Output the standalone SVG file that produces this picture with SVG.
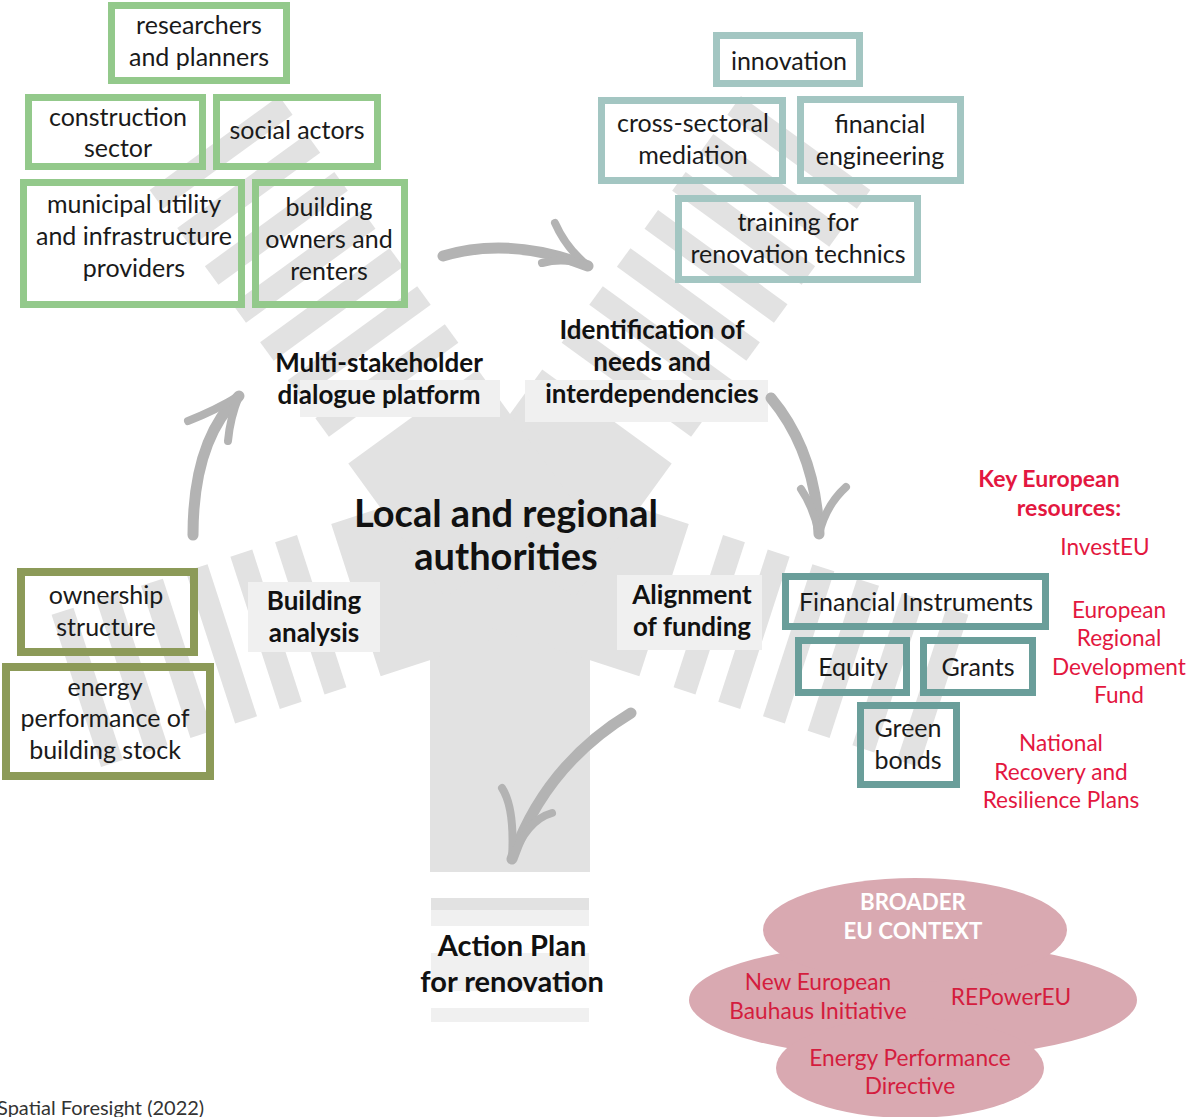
<svg xmlns="http://www.w3.org/2000/svg" width="1189" height="1117" viewBox="0 0 1189 1117">
<style>
.body{fill:#e2e2e2}
.stripe{fill:#e2e2e2}
.lbg{fill:#f0f0f0}
.arrow{fill:none;stroke:#b3b3b3;stroke-linecap:round;stroke-linejoin:round}
.g1{fill:none;stroke:#93c98b;stroke-width:7}
.t1{fill:none;stroke:#a3c6c2;stroke-width:7}
.t2{fill:none;stroke:#6a9e9a;stroke-width:7}
.ol{fill:none;stroke:#8c9a58;stroke-width:8}
.bx{font-family:Lato,"Liberation Sans",sans-serif;font-size:25px;fill:#1a1a1a;text-anchor:middle}
.lb{font-family:Lato,"Liberation Sans",sans-serif;font-weight:bold;font-size:26px;fill:#111;text-anchor:middle}
.red{font-family:Lato,"Liberation Sans",sans-serif;font-size:22.6px;fill:#e3173f;text-anchor:middle}
.redb{font-family:Lato,"Liberation Sans",sans-serif;font-weight:bold;font-size:23px;fill:#e3173f;text-anchor:middle}
.cl{font-family:Lato,"Liberation Sans",sans-serif;font-size:22.7px;fill:#d41d3e;text-anchor:middle}
.clw{font-family:Lato,"Liberation Sans",sans-serif;font-weight:bold;font-size:22.3px;fill:#ffffff;text-anchor:middle}
</style>
<rect width="1189" height="1117" fill="#ffffff"/>
<g id="background">
  <circle cx="510" cy="550" r="80" class="body"/>
  <g transform="translate(510,550) rotate(90)">
    <rect x="0" y="-80" width="322" height="160" class="body"/>
  </g>
  <g transform="translate(510,550) rotate(162)">
    <rect x="0" y="-80" width="162" height="160" class="body"/>
    <rect x="198" y="-80" width="23" height="160" class="stripe"/>
    <rect x="245" y="-80" width="23" height="160" class="stripe"/>
    <rect x="292" y="-80" width="23" height="160" class="stripe"/>
    <rect x="339" y="-80" width="23" height="160" class="stripe"/>
    <rect x="386" y="-80" width="23" height="160" class="stripe"/>
    <rect x="433" y="-80" width="23" height="160" class="stripe"/>
  </g>
  <g transform="translate(510,550) rotate(18)">
    <rect x="0" y="-80" width="162" height="160" class="body"/>
    <rect x="198" y="-80" width="23" height="160" class="stripe"/>
    <rect x="245" y="-80" width="23" height="160" class="stripe"/>
    <rect x="292" y="-80" width="23" height="160" class="stripe"/>
    <rect x="339" y="-80" width="23" height="160" class="stripe"/>
    <rect x="386" y="-80" width="23" height="160" class="stripe"/>
    <rect x="433" y="-80" width="23" height="160" class="stripe"/>
  </g>
  <g transform="translate(510,550) rotate(-54)">
    <rect x="0" y="-80" width="165" height="160" class="body"/>
    <rect x="198" y="-80" width="23" height="160" class="stripe"/>
    <rect x="245" y="-80" width="23" height="160" class="stripe"/>
    <rect x="292" y="-80" width="23" height="160" class="stripe"/>
    <rect x="339" y="-80" width="23" height="160" class="stripe"/>
    <rect x="386" y="-80" width="23" height="160" class="stripe"/>
    <rect x="433" y="-80" width="23" height="160" class="stripe"/>
    <rect x="480" y="-80" width="23" height="160" class="stripe"/>
  </g>
  <g transform="translate(510,550) rotate(-126)">
    <rect x="0" y="-80" width="165" height="160" class="body"/>
    <rect x="198" y="-80" width="23" height="160" class="stripe"/>
    <rect x="245" y="-80" width="23" height="160" class="stripe"/>
    <rect x="292" y="-80" width="23" height="160" class="stripe"/>
    <rect x="339" y="-80" width="23" height="160" class="stripe"/>
    <rect x="386" y="-80" width="23" height="160" class="stripe"/>
    <rect x="433" y="-80" width="23" height="160" class="stripe"/>
    <rect x="480" y="-80" width="23" height="160" class="stripe"/>
  </g>
  <rect x="431" y="898" width="158" height="12" class="stripe"/>
  <rect x="431" y="910" width="158" height="16" class="lbg"/>
  <rect x="431" y="953" width="158" height="38" class="lbg"/>
  <rect x="431" y="1008" width="158" height="14" class="lbg"/>
  <rect x="300" y="380" width="200" height="37" class="lbg"/>
  <rect x="525" y="380" width="243" height="42" class="lbg"/>
  <rect x="248" y="582" width="132" height="70" class="lbg"/>
  <rect x="617" y="575" width="145" height="75" class="lbg"/>
</g>
<g id="connectors">
  <path class="arrow" stroke-width="11" d="M443,256 Q510,236 588,266"/>
  <path class="arrow" stroke-width="8" d="M555,223 Q566,248 588,266"/>
  <path class="arrow" stroke-width="8" d="M542,263 Q566,257 588,266"/>
  <path class="arrow" stroke-width="11" d="M771,398 Q816,452 819,534"/>
  <path class="arrow" stroke-width="8" d="M801,489 Q814,508 819,534"/>
  <path class="arrow" stroke-width="8" d="M846,487 Q826,505 819,534"/>
  <path class="arrow" stroke-width="11" d="M631,713 Q545,765 512,859"/>
  <path class="arrow" stroke-width="8" d="M502,788 Q515,808 512,859"/>
  <path class="arrow" stroke-width="8" d="M552,813 Q527,820 512,859"/>
  <path class="arrow" stroke-width="11" d="M193,535 Q193,440 239,396"/>
  <path class="arrow" stroke-width="8" d="M188,421 Q216,410 239,396"/>
  <path class="arrow" stroke-width="8" d="M228,441 Q230,418 239,396"/>
</g>
<g id="n-researchers"><rect x="111.5" y="5.5" width="175" height="75" class="g1"/><text class="bx" x="199" y="34">researchers</text><text class="bx" x="199" y="66">and planners</text></g>
<g id="n-construction"><rect x="28.5" y="97.5" width="174" height="69" class="g1"/><text class="bx" x="118" y="126">construction</text><text class="bx" x="118" y="157">sector</text></g>
<g id="n-social"><rect x="216.5" y="97.5" width="161" height="69" class="g1"/><text class="bx" x="297" y="139">social actors</text></g>
<g id="n-municipal"><rect x="23.5" y="182.5" width="218" height="122" class="g1"/><text class="bx" x="134" y="213">municipal utility</text><text class="bx" x="134" y="245">and infrastructure</text><text class="bx" x="134" y="277">providers</text></g>
<g id="n-owners"><rect x="255.5" y="182.5" width="149" height="122" class="g1"/><text class="bx" x="329" y="216">building</text><text class="bx" x="329" y="248">owners and</text><text class="bx" x="329" y="280">renters</text></g>
<g id="n-innovation"><rect x="716.5" y="35.5" width="143" height="48" class="t1"/><text class="bx" x="789" y="70">innovation</text></g>
<g id="n-crosssectoral"><rect x="601.5" y="100.5" width="181" height="80" class="t1"/><text class="bx" x="693" y="132">cross-sectoral</text><text class="bx" x="693" y="164">mediation</text></g>
<g id="n-financialeng"><rect x="800.5" y="99.5" width="160" height="81" class="t1"/><text class="bx" x="880" y="133">financial</text><text class="bx" x="880" y="165">engineering</text></g>
<g id="n-training"><rect x="678.5" y="198.5" width="239" height="81" class="t1"/><text class="bx" x="798" y="231">training for</text><text class="bx" x="798" y="263">renovation technics</text></g>
<g id="n-fininstr"><rect x="785.5" y="576.5" width="260" height="50" class="t2"/><text class="bx" x="916" y="611">Financial Instruments</text></g>
<g id="n-equity"><rect x="798.5" y="640.5" width="108" height="52" class="t2"/><text class="bx" x="853" y="676">Equity</text></g>
<g id="n-grants"><rect x="923.5" y="640.5" width="109" height="52" class="t2"/><text class="bx" x="978" y="676">Grants</text></g>
<g id="n-greenbonds"><rect x="860.5" y="705.5" width="96" height="79" class="t2"/><text class="bx" x="908" y="737">Green</text><text class="bx" x="908" y="769">bonds</text></g>
<g id="n-ownership"><rect x="21" y="572" width="173" height="80" class="ol"/><text class="bx" x="106" y="604">ownership</text><text class="bx" x="106" y="636">structure</text></g>
<g id="n-energy"><rect x="6" y="667" width="204" height="109" class="ol"/><text class="bx" x="105" y="696">energy</text><text class="bx" x="105" y="727">performance of</text><text class="bx" x="105" y="759">building stock</text></g>
<g id="n-multistakeholder"><text class="lb" x="379" y="372">Multi-stakeholder</text><text class="lb" x="379" y="404">dialogue platform</text></g>
<g id="n-identification"><text class="lb" x="652" y="339">Identification of</text><text class="lb" x="652" y="371">needs and</text><text class="lb" x="652" y="403">interdependencies</text></g>
<g id="n-authorities"><text class="lb" x="506" y="527" style="font-size:38px">Local and regional</text><text class="lb" x="506" y="570" style="font-size:38px">authorities</text></g>
<g id="n-building"><text class="lb" x="314" y="610">Building</text><text class="lb" x="314" y="642">analysis</text></g>
<g id="n-alignment"><text class="lb" x="692" y="604">Alignment</text><text class="lb" x="692" y="636">of funding</text></g>
<g id="n-actionplan"><text class="lb" x="512" y="956" style="font-size:29px">Action Plan</text><text class="lb" x="512" y="992" style="font-size:29px">for renovation</text></g>
<g id="n-resources">
  <text class="redb" x="1049" y="487">Key European</text>
  <text class="redb" x="1069" y="516">resources:</text>
  <text class="red" x="1105" y="555">InvestEU</text>
  <text class="red" x="1119" y="618">European</text>
  <text class="red" x="1119" y="646">Regional</text>
  <text class="red" x="1119" y="675">Development</text>
  <text class="red" x="1119" y="703">Fund</text>
  <text class="red" x="1061" y="751">National</text>
  <text class="red" x="1061" y="780">Recovery and</text>
  <text class="red" x="1061" y="808">Resilience Plans</text>
</g>
<g id="n-cloud">
  <g fill="#d9a9b1">
    <ellipse cx="913" cy="1000" rx="224" ry="58"/>
    <ellipse cx="915" cy="930" rx="152" ry="52"/>
    <ellipse cx="910" cy="1068" rx="134" ry="50"/>
  </g>
  <text class="clw" x="913" y="910">BROADER</text>
  <text class="clw" x="913" y="939">EU CONTEXT</text>
  <text class="cl" x="818" y="990">New European</text>
  <text class="cl" x="818" y="1019">Bauhaus Initiative</text>
  <text class="cl" x="1011" y="1005">REPowerEU</text>
  <text class="cl" x="910" y="1066">Energy Performance</text>
  <text class="cl" x="910" y="1094">Directive</text>
</g>
<text x="-3" y="1115" font-family="Lato,'Liberation Sans',sans-serif" font-size="20" fill="#333">Spatial Foresight (2022)</text>
</svg>
